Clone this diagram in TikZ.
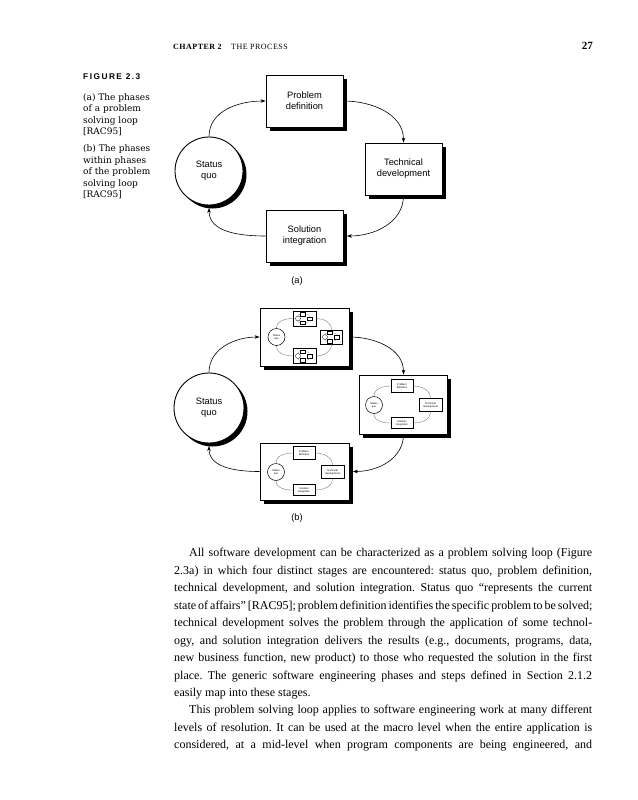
\documentclass[tikz,border=0pt]{standalone}
\usepackage{fontspec}
\setmainfont{Liberation Serif}
\newfontfamily\capfont{DejaVu Serif}
\newfontfamily\diafont{Liberation Sans}
\newfontfamily\figfont[LetterSpace=18]{Liberation Sans}
\newfontfamily\headfont[LetterSpace=6]{Liberation Serif}
\usetikzlibrary{shadows,arrows.meta}
\tikzset{
  shade3/.style={drop shadow={opacity=1,fill=black,shadow xshift=3.5pt,shadow yshift=-3.5pt}},
  bigbox/.style={draw,line width=0.9pt,fill=white,shade3,align=center,inner sep=0pt,
     font=\diafont\fontsize{9.3}{11}\selectfont},
  bigcirc/.style={circle,draw,line width=0.9pt,fill=white,shade3,align=center,inner sep=0pt,
     font=\diafont\fontsize{9.3}{11}\selectfont},
  flow/.style={line width=0.6pt,-{Stealth[length=5pt,width=3.6pt]}},
  minibox/.style={draw,line width=0.5pt,fill=white,inner sep=0pt,align=center,
     minimum width=22pt,minimum height=13pt,
     drop shadow={opacity=1,fill=black,shadow xshift=0.9pt,shadow yshift=-0.9pt},
     font=\diafont\fontsize{2.6}{3}\selectfont},
  minicirc/.style={circle,draw,line width=0.5pt,fill=white,inner sep=0pt,align=center,
     minimum size=17pt,font=\diafont\fontsize{2.6}{3}\selectfont},
  miniflow/.style={draw=black!55,line width=0.35pt},
  microbox/.style={draw,line width=0.3pt,fill=white,inner sep=0pt,minimum width=5pt,minimum height=3.4pt},
  microcirc/.style={circle,draw,line width=0.3pt,fill=white,inner sep=0pt,minimum size=5pt},
  microflow/.style={draw=black!50,line width=0.2pt},
  microloop/.pic={
    \node[microcirc] (-c) at (-6.5,0) {};
    \node[microbox] (-t) at (-1.5,4.3) {};
    \node[microbox] (-r) at (5,0) {};
    \node[microbox] (-b) at (-1.5,-4.3) {};
    \draw[microflow] (-c.north) to[out=90,in=180] (-t.west);
    \draw[microflow] (-t.east) to[out=0,in=90] (-r.north);
    \draw[microflow] (-r.south) to[out=-90,in=0] (-b.east);
    \draw[microflow] (-b.west) to[out=180,in=-90] (-c.south);
  },
  miniloopT/.pic={
    \node[minicirc] (-c) at (-29,0) {Status\\quo};
    \node[minibox] (-t) at (-1,19) {Problem\\definition};
    \node[minibox,minimum width=23pt] (-r) at (27.5,0) {Technical\\development};
    \node[minibox,minimum height=11pt] (-b) at (-1,-18) {Solution\\integration};
    \draw[miniflow] (-c.north) to[out=90,in=180] (-t.west);
    \draw[miniflow] (-t.east) to[out=0,in=90] (-r.north);
    \draw[miniflow] (-r.south) to[out=-90,in=0] (-b.east);
    \draw[miniflow] (-b.west) to[out=180,in=-90] (-c.south);
  },
  miniloopN/.pic={
    \node[minicirc] (-c) at (-28,0) {Status\\quo};
    \node[minibox,minimum width=23pt,minimum height=15pt] (-t) at (0,18.5) {};
    \node[minibox,minimum width=22pt,minimum height=14pt] (-r) at (27,0) {};
    \node[minibox,minimum width=23pt,minimum height=15pt] (-b) at (0,-19) {};
    \pic (-tm) at (0,18.5) {microloop};
    \pic (-rm) at (27,0) {microloop};
    \pic (-bm) at (0,-19) {microloop};
    \draw[miniflow] (-c.north) to[out=90,in=180] (-t.west);
    \draw[miniflow] (-t.east) to[out=0,in=90] (-r.north);
    \draw[miniflow] (-r.south) to[out=-90,in=0] (-b.east);
    \draw[miniflow] (-b.west) to[out=180,in=-90] (-c.south);
  }
}
\begin{document}
\begin{tikzpicture}[x=1pt,y=1pt]
\useasboundingbox (0,0) rectangle (637,-800);
\fill[white] (0,0) rectangle (637,-800);

% running head
\node[anchor=base west,inner sep=0pt,font=\headfont\bfseries\fontsize{8}{9}\selectfont] (hch) at (173,-50) {CHAPTER 2};
\node[anchor=base west,inner sep=0pt,font=\headfont\fontsize{8}{9}\selectfont] (hti) at (231,-50) {THE PROCESS};
\node[anchor=base east,inner sep=0pt,font=\bfseries\fontsize{11}{12}\selectfont] (hpg) at (593,-50) {27};

% caption (base anchor = baseline of the last line)
\node[anchor=base west,inner sep=0pt,font=\figfont\bfseries\fontsize{8.3}{9}\selectfont] (fig) at (83,-80) {FIGURE 2.3};
\node[anchor=base west,inner sep=0pt,align=left,font=\capfont\fontsize{9}{11.5}\selectfont] (capa) at (83,-134.5)
  {(a) The phases\\of a problem\\solving loop\\{[}RAC95{]}};
\node[anchor=base west,inner sep=0pt,align=left,font=\capfont\fontsize{9}{11.5}\selectfont] (capb) at (83,-197.5)
  {(b) The phases\\within phases\\of the problem\\solving loop\\{[}RAC95{]}};

% ---- diagram (a)
\node[bigbox,minimum width=77pt,minimum height=52pt] (pd) at (304.5,-101) {Problem\\definition};
\node[bigbox,minimum width=77pt,minimum height=52pt] (td) at (403.5,-169) {Technical\\development};
\node[bigbox,minimum width=77pt,minimum height=52pt] (si) at (304.5,-236) {Solution\\integration};
\node[bigcirc,minimum size=68pt] (sq) at (209,-171) {Status\\quo};
\draw[flow] (sq.north) to[out=90,in=180] (pd.west);
\draw[flow] (pd.east) to[out=0,in=90] (td.north);
\draw[flow] (td.south) to[out=-90,in=0] ([xshift=3.5pt]si.east);
\draw[flow] (si.west) to[out=180,in=-90] ([yshift=-2.5pt]sq.south);
\node[font=\diafont\fontsize{9.3}{11}\selectfont,inner sep=0pt] (la) at (297,-281) {(a)};

% ---- diagram (b)
\node[bigbox,minimum width=89pt,minimum height=58pt] (tb) at (304.5,-337) {};
\pic (tbl) at (304.5,-337) {miniloopN};
\node[bigbox,minimum width=88pt,minimum height=59pt] (rb) at (403.5,-404.5) {};
\pic (rbl) at (403,-405) {miniloopT};
\node[bigbox,minimum width=89pt,minimum height=57pt] (bb) at (304.5,-471.5) {};
\pic (bbl) at (305,-472) {miniloopT};
\node[bigcirc,minimum size=70pt] (sq2) at (209,-408) {Status\\quo};
\draw[flow] (sq2.north) to[out=90,in=180] (tb.west);
\draw[flow] (tb.east) to[out=0,in=90] (rb.north);
\draw[flow] (rb.south) to[out=-90,in=0] ([xshift=3.5pt]bb.east);
\draw[flow] (bb.west) to[out=180,in=-90] ([yshift=-2.5pt]sq2.south);
\node[font=\diafont\fontsize{9.3}{11}\selectfont,inner sep=0pt] (lb) at (297,-518) {(b)};

% ---- body text
\node[anchor=north west,inner sep=0pt,align=left,font=\frenchspacing\fontsize{12}{17.45}\selectfont] (body) at (174,-548.2)
 {\makebox[418pt][s]{\hspace*{15pt}All software development can be characterized as a problem solving loop (Figure}\\
  \makebox[418pt][s]{2.3a) in which four distinct stages are encountered: status quo, problem definition,}\\
  \makebox[418pt][s]{technical development, and solution integration. Status quo ``represents the current}\\
  \makebox[418pt][s]{state of affairs'' [RAC95]; problem definition identifies the specific problem to be solved;}\\
  \makebox[418pt][s]{technical development solves the problem through the application of some technol-}\\
  \makebox[418pt][s]{ogy, and solution integration delivers the results (e.g., documents, programs, data,}\\
  \makebox[418pt][s]{new business function, new product) to those who requested the solution in the first}\\
  \makebox[418pt][s]{place. The generic software engineering phases and steps defined in Section 2.1.2}\\
  easily map into these stages.\\
  \makebox[418pt][s]{\hspace*{15pt}This problem solving loop applies to software engineering work at many different}\\
  \makebox[418pt][s]{levels of resolution. It can be used at the macro level when the entire application is}\\
  \makebox[418pt][s]{considered, at a mid-level when program components are being engineered, and}};
\end{tikzpicture}
\end{document}
